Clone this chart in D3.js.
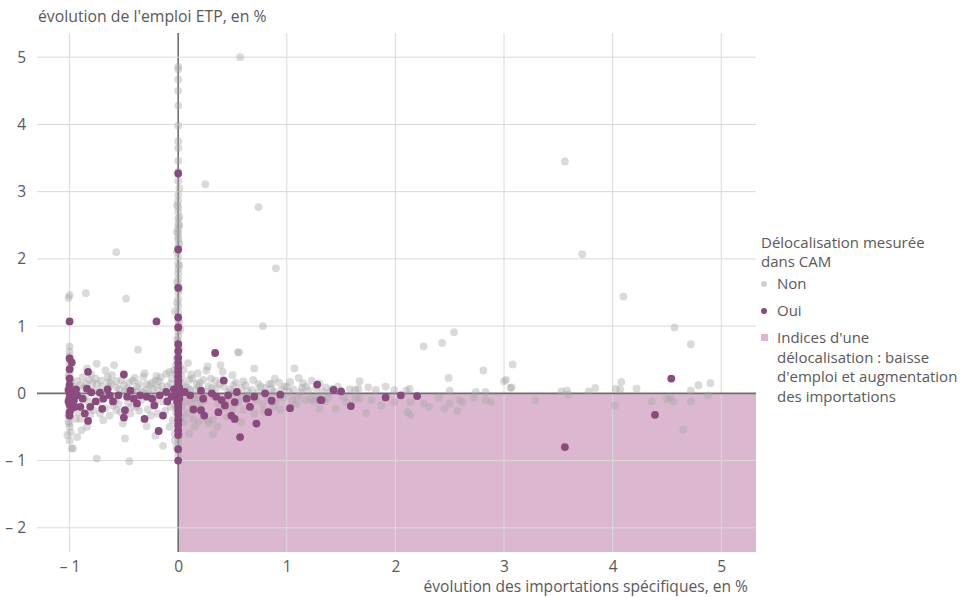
<!DOCTYPE html>
<html>
<head>
<meta charset="utf-8">
<script src="https://cdnjs.cloudflare.com/ajax/libs/d3/7.8.5/d3.min.js"></script>
<style>
  body { margin: 0; background: #fff; }
  svg text { font-family: "Open Sans", sans-serif; fill: #595959; }
</style>
</head>
<body>
<svg id="chart" width="961" height="597"></svg>
<script>
// tick values
var xTicks = [-1, 0, 1, 2, 3, 4, 5];
var yTicks = [-2, -1, 0, 1, 2, 3, 4, 5];

// entreprises sans délocalisation mesurée dans CAM  [import %, emploi %]
var nonPoints = [
  // colonne x = 0
  [0,4.86],[0,4.82],[0,4.67],[0,4.5],[0,4.28],[0,3.98],[0,3.75],[0,3.65],[0,3.46],[0,3.3],[0,3.16],
  [0,2.95],[0,2.86],[0,2.77],[0,2.7],[0,2.6],[0,2.52],[0,2.45],[0,2.38],[0,2.32],[0,2.28],[0,2.18],
  [0,2.03],[0,1.93],[0,1.85],[0,1.78],[0,1.7],[0,1.6],[0,1.5],[0,1.4],[0,1.3],[0,1.2],[0,1.1],[0,1.0],
  [0,0.92],[0,0.85],[0,0.78],[0,0.7],[0,0.62],[0,0.55],[0,0.48],[0,0.42],[0,0.36],[0,0.3],[0,0.25],
  [0,0.2],[0,0.15],[0,0.1],[0,0.06],[0,0.02],[0,-0.02],[0,-0.06],[0,-0.1],[0,-0.15],[0,-0.2],[0,-0.25],
  [0,-0.3],[0,-0.38],[0,-0.45],[0,-0.52],[0,-0.6],[0,-0.68],[0,-0.75],[0,-0.85],[0,-0.92],
  [-0.03,1.22],[0.02,0.95],[-0.02,0.3],[0.02,-0.35],[-0.03,-0.7],[0.01,2.5],[-0.01,1.65],
  [0.01,0.05],[-0.01,0.12],[0.01,0.18],[-0.01,0.24],[0.015,0.4],[-0.015,0.52],[0.01,0.66],[-0.01,0.8],
  [0.01,-0.12],[-0.01,-0.22],[0.01,-0.4],[-0.01,-0.5],[0.01,-0.62],[-0.015,-0.8],[0.01,1.05],[-0.01,1.35],
  [0.01,1.55],[0.01,1.9],[-0.01,2.1],[0.01,2.22],[-0.01,2.4],[0.01,2.62],[-0.01,2.8],[0.01,3.05],
  // colonne x = -1
  [-1,1.46],[-1.01,1.42],[-1,0.62],[-1,0.55],[-1,0.45],[-0.99,0.38],[-1,0.3],[-1,0.22],[-1,0.15],
  [-1,0.08],[-1,0.02],[-1,-0.05],[-1,-0.12],[-1,-0.2],[-1,-0.28],[-1,-0.35],[-1.01,-0.42],[-1,-0.5],
  [-0.99,-0.58],[-1,-0.7],[-0.97,-0.82],
  [-1,0.7],[-1.01,0.26],[-0.99,0.18],[-1.01,-0.08],[-0.99,-0.25],[-1.01,-0.32],[-1,-0.45],[-1.02,-0.62],
  // nuage entre -1 et 0
  [-0.85,1.49],[-0.57,2.1],[-0.48,1.41],[-0.37,0.65],[-0.75,0.44],[-0.59,0.42],[-0.84,0.37],[-0.67,0.34],
  [-0.32,0.25],[-0.42,0.19],[-0.21,0.19],[-0.11,0.29],[-0.75,0.14],[-0.64,0.17],[-0.57,0.09],[-0.29,0.14],
  [-0.94,-0.38],[-0.89,-0.55],[-0.93,-0.65],[-0.98,-0.82],[-0.75,-0.97],[-0.45,-1.01],[-0.49,-0.67],
  [-0.29,-0.49],[-0.21,-0.63],[-0.14,-0.78],[-0.63,-0.33],[-0.78,-0.25],[-0.38,-0.2],[-0.57,-0.25],
  [-0.07,-0.2],[-0.87,0.08],[-0.47,0.07],[-0.38,0.03],[-0.23,0.07],[-0.15,0.11],[-0.04,0.34],
  [-0.69,-0.4],[-0.51,-0.45],[-0.84,-0.5],[-0.25,-0.33],
  [-0.95,0.05],[-0.9,0.12],[-0.86,-0.06],[-0.82,0.2],[-0.78,0.05],[-0.74,-0.12],[-0.7,0.1],[-0.66,0.02],
  [-0.62,0.15],[-0.58,-0.1],[-0.54,0.06],[-0.5,0.12],[-0.46,-0.14],[-0.42,0.04],[-0.38,0.1],[-0.34,-0.1],
  [-0.3,0.05],[-0.26,0.12],[-0.22,-0.06],[-0.18,0.18],[-0.14,-0.12],[-0.1,0.1],[-0.06,0.22],[-0.03,-0.18],
  [-0.92,-0.28],[-0.72,-0.3],[-0.6,-0.18],[-0.44,-0.3],[-0.28,-0.24],[-0.12,-0.26],[-0.05,-0.4],
  [-0.08,0.32],[-0.2,0.26],[-0.65,0.24],[-0.8,0.28],
  [-0.97,0.1],[-0.93,0.18],[-0.91,-0.02],[-0.88,0.24],[-0.85,0.14],[-0.83,-0.12],[-0.79,0.16],[-0.76,0.22],
  [-0.73,0.02],[-0.71,0.19],[-0.68,-0.06],[-0.64,0.09],[-0.61,0.27],[-0.57,0.18],[-0.55,-0.16],[-0.52,0.2],
  [-0.49,0.02],[-0.45,0.16],[-0.43,-0.2],[-0.4,0.23],[-0.36,0.14],[-0.33,0.02],[-0.31,0.3],[-0.27,0.0],
  [-0.24,0.16],[-0.21,-0.14],[-0.19,0.08],[-0.16,0.24],[-0.13,0.02],[-0.09,-0.08],[-0.07,0.14],[-0.04,0.05],
  [-0.02,0.42],[-0.96,-0.15],[-0.9,-0.38],[-0.81,-0.32],[-0.67,-0.22],[-0.53,-0.28],[-0.36,-0.26],
  [-0.19,-0.3],[-0.08,-0.5],[-0.03,-0.6],[-0.02,-0.28],
  // nuage entre 0 et 1.5
  [0.57,5.0],[0.25,3.11],[0.74,2.77],[0.9,1.86],[0.78,1.0],[0.56,0.61],
  [0.55,0.61],[0.7,0.37],[0.39,0.42],[0.27,0.4],[0.26,0.34],[0.41,0.32],[0.12,0.28],[0.5,0.27],
  [0.17,0.14],[0.34,0.19],[0.74,0.14],[0.89,0.22],[0.86,0.14],[1.03,0.17],[1.07,0.37],[1.15,0.15],
  [1.11,0.23],[1.23,0.19],[1.3,-0.23],[0.14,-0.38],[0.27,-0.4],[0.32,-0.39],[0.28,-0.45],[0.32,-0.61],
  [0.58,-0.43],[0.79,-0.26],[0.94,-0.24],[0.2,-0.18],[0.43,-0.21],[0.67,-0.2],[1.05,-0.1],[1.17,-0.1],
  [1.28,-0.05],[0.15,-0.07],[0.5,0.0],[0.64,0.03],[0.8,0.08],[0.95,0.05],[0.09,0.08],[0.31,0.08],
  [0.42,0.1],[0.58,0.08],
  [0.04,0.15],[0.06,-0.12],[0.1,0.2],[0.12,-0.15],[0.16,0.05],[0.2,0.16],[0.24,-0.1],[0.28,0.1],
  [0.33,-0.05],[0.38,0.14],[0.44,-0.12],[0.48,0.06],[0.53,0.16],[0.58,-0.05],[0.62,0.12],[0.68,0.05],
  [0.72,-0.1],[0.76,0.1],[0.82,-0.05],[0.86,0.06],[0.9,-0.12],[0.98,0.1],[1.02,0.02],[1.1,-0.05],
  [1.14,0.08],[1.2,0.04],[1.25,-0.12],[1.33,0.03],[1.38,-0.06],[0.05,0.35],[0.08,-0.3],[0.15,-0.5],
  [0.22,-0.3],[0.45,-0.35],[0.6,-0.25],[0.09,0.45],[0.18,0.3],
  [0.03,0.25],[0.03,-0.2],[0.07,0.1],[0.11,0.05],[0.13,0.22],[0.18,-0.08],[0.19,0.1],[0.23,0.2],
  [0.26,0.02],[0.3,0.22],[0.35,0.08],[0.37,-0.15],[0.41,0.2],[0.46,0.02],[0.51,0.12],[0.55,-0.14],
  [0.6,0.18],[0.65,-0.04],[0.69,0.2],[0.74,0.02],[0.78,-0.16],[0.84,0.14],[0.88,0.02],[0.93,0.16],
  [0.97,-0.06],[1.0,0.1],[1.06,0.06],[1.09,-0.16],[1.13,0.02],[1.18,0.1],[1.22,-0.08],[1.27,0.08],
  [1.3,0.15],[1.35,-0.12],[1.4,0.02],[1.47,0.1],[1.52,-0.05],[1.58,0.06],[0.05,-0.42],[0.1,-0.6],
  [0.19,-0.42],[0.36,-0.5],[0.5,-0.22],[0.7,-0.3],[0.88,-0.2],
  // au-delà de 1.3
  [2.26,0.7],[2.43,0.75],[2.54,0.91],[2.49,0.23],[2.81,0.34],[3.08,0.43],[3.0,0.18],[3.07,0.09],
  [1.67,0.18],[1.75,0.09],[1.82,0.05],[1.91,0.1],[1.99,0.05],[2.13,0.07],[2.1,0.04],[2.5,0.04],
  [2.74,0.02],[2.83,0.02],[1.63,0.05],[1.66,0.07],[1.36,0.09],[1.42,0.07],[1.45,-0.23],[1.55,-0.13],
  [1.63,-0.08],[1.67,-0.08],[1.78,-0.1],[1.87,-0.18],[1.73,-0.29],[1.99,-0.13],[2.11,-0.28],[2.14,-0.32],
  [2.14,-0.13],[2.26,-0.15],[2.31,-0.2],[2.4,-0.06],[2.45,-0.23],[2.5,-0.15],[2.57,-0.26],[2.59,-0.1],
  [2.62,-0.13],[2.72,-0.06],[2.83,-0.1],[2.88,-0.13],
  [3.02,0.2],[3.06,0.08],[3.29,-0.1],[3.53,0.03],[3.58,0.04],[3.59,-0.02],[3.78,0.03],[3.84,0.08],
  [4.02,-0.18],[4.03,0.07],[4.07,0.06],[4.08,0.17],[4.22,0.07],[4.36,-0.12],[4.5,-0.09],[4.53,-0.06],
  [4.56,-0.12],[4.57,0.98],[4.72,0.73],[4.65,-0.54],[4.72,0.04],[4.72,-0.12],[4.79,0.12],[4.88,-0.03],
  [4.9,0.15],[3.56,3.45],[3.72,2.07],[4.1,1.44]
];

// entreprises avec délocalisation mesurée dans CAM
var ouiPoints = [
  // colonne x = 0
  [0,3.27],[0,2.14],[0,1.57],[0,1.13],[0,0.98],[0,0.73],[0,0.63],[0,0.53],[0,0.45],[0,0.38],[0,0.32],
  [0,0.25],[0,0.18],[0,0.12],[0,0.06],[0,0.0],[0,-0.05],[0,-0.1],[0,-0.15],[0,-0.2],[0,-0.26],[0,-0.32],
  [0,-0.4],[0,-0.47],[0,-0.55],[0,-0.62],[0,-0.83],[0,-1.0],[-0.01,0.02],[0.01,-0.08],[-0.01,-0.12],
  [0.01,0.08],[-0.02,-0.02],[0.02,0.0],
  // colonne x = -1
  [-1,1.07],[-1,0.52],[-0.98,0.46],[-1,0.36],[-1,0.22],[-1,0.12],[-1.01,0.05],[-1,0.0],[-0.99,-0.04],
  [-1,-0.08],[-1.01,-0.12],[-1,-0.17],[-0.98,-0.22],[-1,-0.28],[-1,-0.33],[-0.97,0.02],[-0.96,-0.1],
  [-0.94,0.06],[-0.95,-0.2],[-0.93,-0.03],
  // entre -1 et 0
  [-0.2,1.07],[-0.83,0.32],[-0.5,0.28],[-0.84,0.07],[-0.8,0.015],[-0.72,0.01],[-0.63,-0.03],[-0.69,-0.08],
  [-0.55,-0.03],[-0.47,-0.05],[-0.41,-0.08],[-0.35,-0.03],[-0.29,-0.05],[-0.24,-0.08],[-0.17,-0.03],
  [-0.11,0.02],[-0.06,-0.05],[-0.9,-0.2],[-0.81,-0.2],[-0.7,-0.23],[-0.49,-0.25],[-0.5,-0.36],
  [-0.83,-0.41],[-0.31,-0.38],[-0.14,-0.33],[-0.18,-0.56],[-0.88,-0.08],[-0.76,-0.12],[-0.6,-0.12],
  [-0.38,-0.15],[-0.22,-0.18],[-0.1,-0.12],[-0.65,0.06],[-0.44,0.04],[-0.04,0.06],[-0.86,-0.3],
  // au-delà de 0
  [0.34,0.6],[0.42,0.19],[0.06,0.02],[0.11,-0.03],[0.21,0.04],[0.23,-0.08],[0.31,0.0],[0.35,-0.05],
  [0.4,-0.1],[0.46,-0.03],[0.54,0.02],[0.63,-0.08],[0.7,-0.05],[0.8,0.0],[0.86,-0.11],[0.94,-0.02],
  [1.03,-0.22],[1.28,0.13],[1.31,-0.1],[0.14,-0.24],[0.21,-0.25],[0.24,-0.33],[0.37,-0.28],[0.43,-0.18],
  [0.49,-0.33],[0.52,-0.38],[0.66,-0.2],[0.72,-0.45],[0.83,-0.28],[0.57,-0.65],[0.52,-0.13],
  [1.43,0.05],[1.5,0.03],[1.32,-0.1],[1.59,-0.19],[1.91,-0.06],[2.05,-0.03],[2.2,-0.04],
  [4.54,0.22],[4.39,-0.32],[3.56,-0.8]
];

var legendTitle = ["Délocalisation mesurée", "dans CAM"];
var legendZone = ["Indices d'une", "délocalisation : baisse", "d'emploi et augmentation", "des importations"];

var svg = d3.select("#chart");
var plotL = 37, plotR = 756, plotT = 33, plotB = 552;

var x = d3.scaleLinear().domain([-1.3, 5.32]).range([plotL, plotR]);
var y = d3.scaleLinear().domain([-2.36, 5.36]).range([plotB, plotT]);

// zone rose : baisse d'emploi et hausse des importations
svg.append("rect")
  .attr("x", x(0))
  .attr("y", y(0))
  .attr("width", plotR - x(0))
  .attr("height", plotB - y(0))
  .attr("fill", "#dcb8d0");

// grille
svg.selectAll(".gx").data(xTicks).enter().append("line")
  .attr("x1", function(d) { return x(d); })
  .attr("x2", function(d) { return x(d); })
  .attr("y1", plotT).attr("y2", plotB)
  .attr("stroke", function(d) { return d === 0 ? "#6e6e6e" : "#d9d9d9"; })
  .attr("stroke-width", function(d) { return d === 0 ? 1.6 : 1; });

svg.selectAll(".gy").data(yTicks).enter().append("line")
  .attr("x1", plotL).attr("x2", plotR)
  .attr("y1", function(d) { return y(d); })
  .attr("y2", function(d) { return y(d); })
  .attr("stroke", function(d) { return d === 0 ? "#6e6e6e" : "#d9d9d9"; })
  .attr("stroke-width", function(d) { return d === 0 ? 1.6 : 1; });

function fmt(d) { return d < 0 ? "\u2013 " + Math.abs(d) : String(d); }

var xAxis = svg.append("g")
  .attr("transform", "translate(0," + plotB + ")")
  .call(d3.axisBottom(x).tickValues(xTicks).tickSize(0).tickPadding(9).tickFormat(fmt));
xAxis.select(".domain").remove();

var yAxis = svg.append("g")
  .attr("transform", "translate(" + plotL + ",0)")
  .call(d3.axisLeft(y).tickValues(yTicks).tickSize(0).tickPadding(11).tickFormat(fmt));
yAxis.select(".domain").remove();

svg.selectAll(".tick text")
  .style("font-family", "'Open Sans', sans-serif")
  .style("font-size", "15.5px")
  .attr("fill", "#595959");

// points
svg.append("g").selectAll("circle").data(nonPoints).enter().append("circle")
  .attr("cx", function(d) { return x(d[0]); })
  .attr("cy", function(d) { return y(d[1]); })
  .attr("r", 3.9)
  .attr("fill", "#a8a8a8")
  .attr("fill-opacity", 0.42);

svg.append("g").selectAll("circle").data(ouiPoints).enter().append("circle")
  .attr("cx", function(d) { return x(d[0]); })
  .attr("cy", function(d) { return y(d[1]); })
  .attr("r", 3.9)
  .attr("fill", "#8b4a7e");

// titres des axes
svg.append("text")
  .attr("x", 38).attr("y", 22)
  .style("font-size", "15.8px")
  .text("évolution de l'emploi ETP, en %");

svg.append("text")
  .attr("x", 748).attr("y", 592)
  .attr("text-anchor", "end")
  .style("font-size", "15.6px")
  .text("évolution des importations spécifiques, en %");

// légende
var lg = svg.append("g").style("font-size", "15px");
legendTitle.forEach(function(t, i) {
  lg.append("text").attr("x", 761).attr("y", 248 + i * 19).text(t);
});
lg.append("circle").attr("cx", 764).attr("cy", 284).attr("r", 3).attr("fill", "#d0d0d0");
lg.append("text").attr("x", 777).attr("y", 289).text("Non");
lg.append("circle").attr("cx", 764).attr("cy", 311).attr("r", 3).attr("fill", "#8b4a7e");
lg.append("text").attr("x", 777).attr("y", 316).text("Oui");
lg.append("rect").attr("x", 761).attr("y", 334).attr("width", 7).attr("height", 7).attr("fill", "#dcb8d0");
legendZone.forEach(function(t, i) {
  lg.append("text").attr("x", 777).attr("y", 343 + i * 19.5).text(t);
});
</script>
</body>
</html>
